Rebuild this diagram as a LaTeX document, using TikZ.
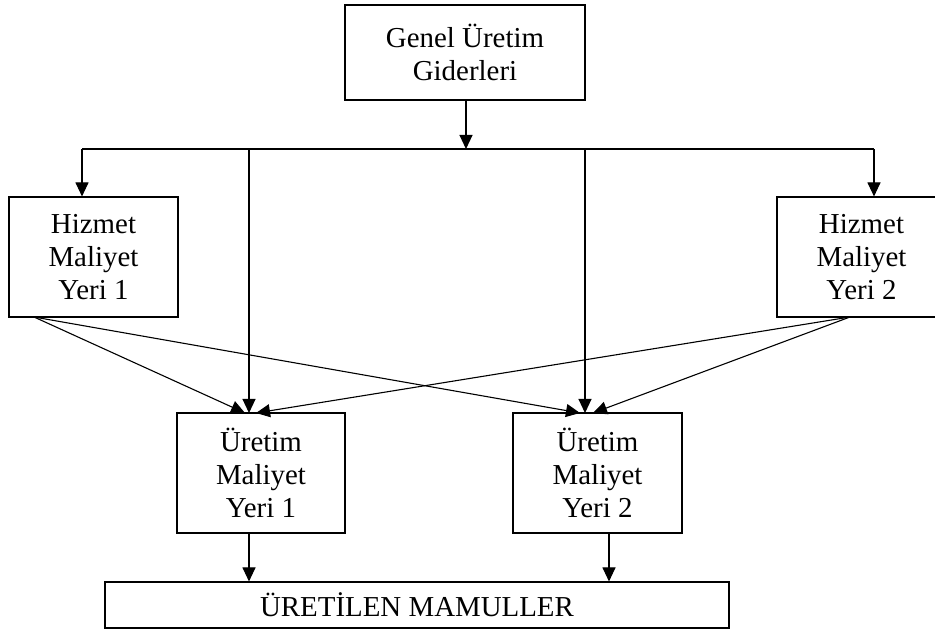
\documentclass[tikz,border=0pt]{standalone}
\usepackage{fontspec}
\setmainfont{Liberation Serif}
\usetikzlibrary{arrows.meta}

\begin{document}
\begin{tikzpicture}[x=1pt,y=1pt,
  box/.style={draw, line width=1.1pt, inner sep=0pt, align=center,
    font=\fontsize{28.9pt}{33pt}\selectfont},
  arr/.style={line width=1.1pt, -{Triangle[length=14pt,width=13pt]}},
  wire/.style={line width=1.1pt}]
\useasboundingbox (0,0) rectangle (935,632);
\clip (0,0) rectangle (935,632);

% boxes
\node[box, minimum width=240pt, minimum height=95pt] (gen) at (465,579.5) {Genel Üretim\\Giderleri};
\node[box, minimum width=169pt, minimum height=120pt] (h1) at (93.5,375) {Hizmet\\Maliyet\\Yeri 1};
\node[box, minimum width=169pt, minimum height=120pt] (h2) at (861.5,375) {Hizmet\\Maliyet\\Yeri 2};
\node[box, minimum width=168pt, minimum height=120pt] (u1) at (261,159) {Üretim\\Maliyet\\Yeri 1};
\node[box, minimum width=169pt, minimum height=120pt] (u2) at (597.5,159) {Üretim\\Maliyet\\Yeri 2};
\node[box, minimum width=624pt, minimum height=46pt] (mam) at (417,27) {ÜRETİLEN MAMULLER};

% distribution bus
\coordinate (busL) at (82,483);
\coordinate (busR) at (874,483);
\coordinate (in1) at (249,219);
\coordinate (in2) at (585,219);
\coordinate (h1o) at (34,315);
\coordinate (h2o) at (850,315);
\coordinate (out2) at (609,99);

\draw[arr] ([xshift=1pt]gen.south) -- ([xshift=1pt]gen.south |- busL);
\draw[wire] (busL) -- (busR);
\draw[arr] (busL) -- (busL |- h1.north);
\draw[arr] (busR) -- (busR |- h2.north);
\draw[arr] (in1 |- busL) -- (in1);
\draw[arr] (in2 |- busL) -- (in2);

% service cost centres to production cost centres
\draw[arr] (h1o) -- ([xshift=-4pt]in1);
\draw[arr] (h1o) -- ([xshift=-5pt]in2);
\draw[arr] (h2o) -- ([xshift=7pt]in1);
\draw[arr] (h2o) -- ([xshift=8pt]in2);

% production cost centres to products
\draw[arr] (in1 |- u1.south) -- (in1 |- mam.north);
\draw[arr] (out2) -- (out2 |- mam.north);
\end{tikzpicture}
\end{document}
